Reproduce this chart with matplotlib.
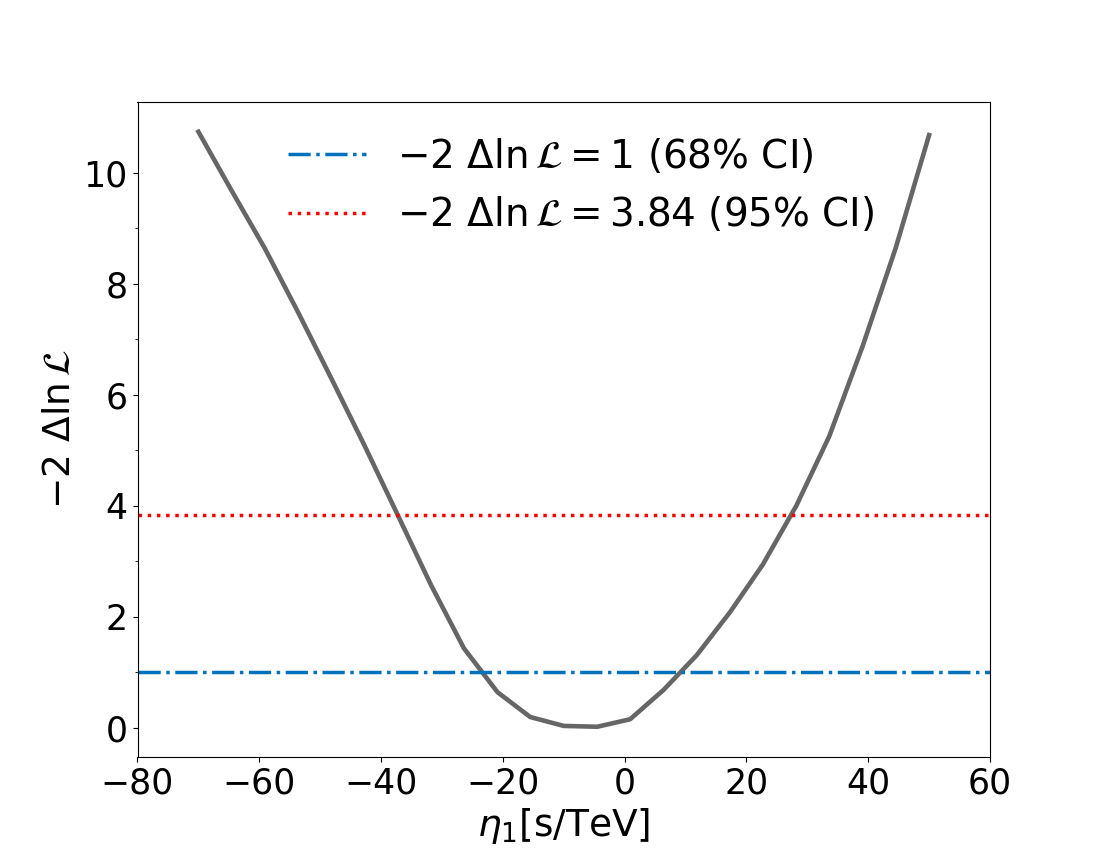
import numpy as np
import matplotlib
matplotlib.use('Agg')
import matplotlib.pyplot as plt

# profile likelihood scan
eta1 = [-70.0, -64.5, -59.1, -53.6, -48.2, -42.7, -37.3, -31.8, -26.4, -20.9,
        -15.5, -10.0, -4.5, 0.9, 6.4, 11.8, 17.3, 22.7, 28.2, 33.6, 39.1, 44.5, 50.0]
delta_lnL = [10.74, 9.67, 8.64, 7.48, 6.30, 5.08, 3.84, 2.57, 1.43, 0.64,
             0.19, 0.03, 0.015, 0.15, 0.68, 1.30, 2.08, 2.94, 4.00, 5.25, 6.88, 8.64, 10.68]

ci_levels = [1.0, 3.84]
ci_labels = [r'$-2\ \Delta\ln\mathcal{L} = 1$ (68% CI)',
             r'$-2\ \Delta\ln\mathcal{L} = 3.84$ (95% CI)']
minor_yticks = [1, 3, 5, 7, 9]

fig, ax = plt.subplots(figsize=(11, 8.5), dpi=100)

ax.plot(eta1, delta_lnL, color='#666666', lw=3.3)
ax.axhline(ci_levels[0], color='#0072BD', ls='-.', lw=2.5, label=ci_labels[0])
ax.axhline(ci_levels[1], color='red', ls=':', lw=2.5, label=ci_labels[1])

ax.set_xlim(-80, 60)
ax.set_yticks(minor_yticks, minor=True)
ax.tick_params(axis='both', which='major', labelsize=25)

ax.set_xlabel(r'$\eta_1$[s/TeV]', fontsize=27)
ax.set_ylabel(r'$-2\ \Delta\ln\mathcal{L}$', fontsize=27)

ax.legend(loc='upper center', bbox_to_anchor=(0.52, 1.0), frameon=False, fontsize=28)

plt.savefig('out.png', dpi=100)
